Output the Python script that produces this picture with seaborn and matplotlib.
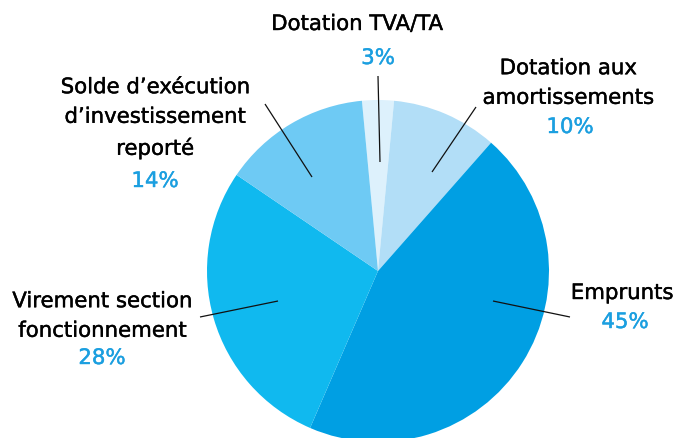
import matplotlib
matplotlib.use("Agg")
import matplotlib.pyplot as plt
import matplotlib.patheffects as pe
import seaborn as sns

# Data (clockwise order starting at the top)
labels = ["Dotation TVA/TA", "Dotation aux\namortissements", "Emprunts",
          "Virement section\nfonctionnement", "Solde d\u2019exécution\nd\u2019investissement\nreporté"]
values = [3, 10, 45, 28, 14]
pct_labels = ["3%", "10%", "45%", "28%", "14%"]
colors = ["#ddf1fc", "#b2def7", "#009fe3", "#10b9ef", "#6ecaf4"]

sns.set_theme(style="white")
plt.rcParams["font.family"] = ["DejaVu Sans"]

W, H = 679, 438
fig = plt.figure(figsize=(W / 100, H / 100), dpi=100)
ax = fig.add_axes([0, 0, 1, 1])

def Y(y):
    return H - y

cx, cy, r = 378, 271, 171
ax.pie(values, colors=colors, startangle=95.4, counterclock=False,
       center=(cx, Y(cy)), radius=r, wedgeprops=dict(linewidth=0))
ax.set_xlim(0, W)
ax.set_ylim(0, H)
ax.set_aspect("equal")
ax.axis("off")

# label text positions (pixel coords): (x, y_text_center, y_pct_center, x_pct)
pos = [(357, 24, 58, 378), (568, 83, 127, 570), (622, 293, 322, 625),
       (102, 316, 358, 102), (155, 118, 181, 155)]
leaders = [((378, 76), (380, 162)), ((476, 107), (432, 172)),
           ((493, 301), (570, 317)), ((200, 317), (278, 301)),
           ((265, 104), (312, 177))]

fs = 15.3
for lab, pc, (x, yt, yp, xp), ((x1, y1), (x2, y2)) in zip(labels, pct_labels, pos, leaders):
    t = ax.text(x, Y(yt), lab, ha="center", va="center", fontsize=fs, color="#000000",
                linespacing=1.6)
    t.set_path_effects([pe.withStroke(linewidth=0.3, foreground="#000000")])
    p = ax.text(xp, Y(yp), pc, ha="center", va="center", fontsize=fs, color="#1b9fe0")
    p.set_path_effects([pe.withStroke(linewidth=0.3, foreground="#1b9fe0")])
    ax.plot([x1, x2], [Y(y1), Y(y2)], color="#111111", lw=0.9, solid_capstyle="butt")

fig.savefig("out.png", dpi=100)
